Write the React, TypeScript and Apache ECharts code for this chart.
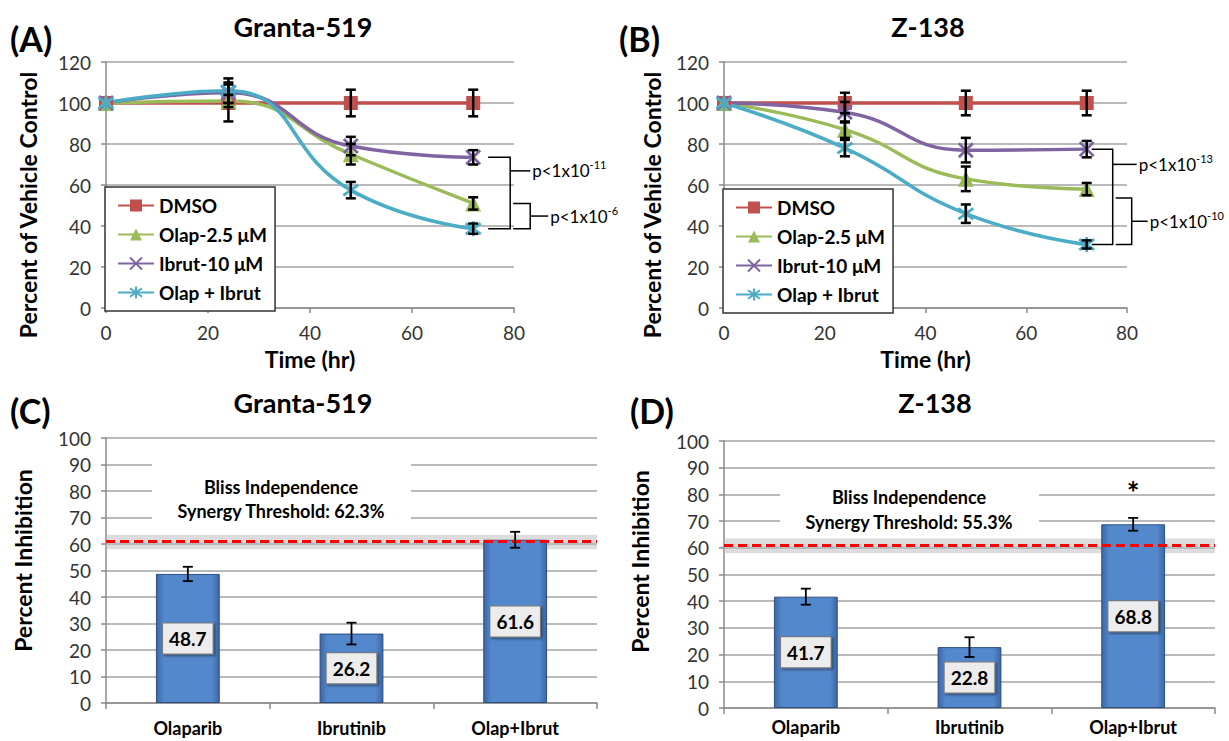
import React, { useEffect, useRef } from "react";
import * as echarts from "echarts";

// ---------- data ----------
const timePoints = [0, 24, 48, 72];
const seriesNames = ["DMSO", "Olap-2.5 μM", "Ibrut-10 μM", "Olap + Ibrut"];

// (A) Granta-519, percent of vehicle control
const grantaDMSO = [100, 100, 100, 100];
const grantaOlap = [100, 101, 75, 51];
const grantaIbrut = [100, 105, 79, 73.5];
const grantaCombo = [100, 106, 57.5, 38.7];
const grantaDMSOErr = [0, 9, 6.5, 6.5];
const grantaOlapErr = [0, 3, 5, 3];
const grantaIbrutErr = [0, 5, 4.5, 3.5];
const grantaComboErr = [0, 6, 4, 2.5];

// (B) Z-138, percent of vehicle control
const z138DMSO = [100, 100, 100, 100];
const z138Olap = [100, 87, 63, 58];
const z138Ibrut = [100, 95.5, 77, 77.5];
const z138Combo = [100, 78, 46, 31];
const z138DMSOErr = [0, 5, 6, 6];
const z138OlapErr = [0, 4, 6, 3];
const z138IbrutErr = [0, 5, 6, 4];
const z138ComboErr = [0, 4, 4.5, 2];

// p-value annotations
const grantaPBase = ["p<1x10", "p<1x10"];
const grantaPExp = ["-11", "-6"];
const z138PBase = ["p<1x10", "p<1x10"];
const z138PExp = ["-13", "-10"];

// (C)/(D) percent inhibition
const barCategories = ["Olaparib", "Ibrutinib", "Olap+Ibrut"];
const grantaInhibition = [48.7, 26.2, 61.6];
const grantaInhibitionErr = [2.7, 4.1, 3];
const z138Inhibition = [41.7, 22.8, 68.8];
const z138InhibitionErr = [3, 3.7, 2.4];
const thresholdValue = 61;
const thresholdBand = [58, 63.5];
const grantaBlissText = ["Bliss Independence", "Synergy Threshold: 62.3%"];
const z138BlissText = ["Bliss Independence", "Synergy Threshold: 55.3%"];

const panelTitles = ["Granta-519", "Z-138", "Granta-519", "Z-138"];
const panelLetters = ["(A)", "(B)", "(C)", "(D)"];

// ---------- styles ----------
const FONT = 'Lato, "Open Sans", "DejaVu Sans", sans-serif';
const lineColors = ["#c0504d", "#9bbb59", "#8064a2", "#4bacc6"];
const symbols = [
  "rect",
  "triangle",
  "path://M1,1L13,13M13,1L1,13",
  "path://M1,2L13,12M13,2L1,12M7,0L7,14",
];
const symbolSizes = [14, 16, 14, 15];
const symbolBorder = [0, 0, 2.8, 2.8];

const grids = [
  { left: 106, top: 62, width: 408, height: 246 },
  { left: 724, top: 62, width: 403, height: 246 },
  { left: 106, top: 438, width: 491, height: 265 },
  { left: 724, top: 441, width: 491, height: 267 },
];

const gridLineStyle = { color: "#a3a3a3", width: 1.5 };
const axisLineStyle = { color: "#8a8a8a", width: 1.5 };
const tickLabel = { fontSize: 19, color: "#333", fontFamily: FONT };

function lineXAxis(idx: number) {
  return {
    type: "value",
    gridIndex: idx,
    min: 0,
    max: 80,
    interval: 20,
    name: "Time (hr)",
    nameLocation: "middle",
    nameGap: 39,
    nameTextStyle: { fontSize: 23, fontWeight: "bold", color: "#000", fontFamily: FONT },
    axisLine: { show: true, lineStyle: axisLineStyle },
    axisTick: { show: true, length: 5, lineStyle: axisLineStyle },
    axisLabel: { ...tickLabel, margin: 15 },
    splitLine: { show: false },
  };
}

function lineYAxis(idx: number, gap: number) {
  return {
    type: "value",
    gridIndex: idx,
    min: 0,
    max: 120,
    interval: 20,
    name: "Percent of Vehicle Control",
    nameLocation: "middle",
    nameGap: gap,
    nameTextStyle: {
      fontSize: 23,
      fontWeight: "bold",
      color: "#000",
      fontFamily: FONT,
      padding: [0, 40, 0, 0],
    },
    axisLine: { show: true, lineStyle: axisLineStyle },
    axisTick: { show: true, length: 5, lineStyle: axisLineStyle },
    axisLabel: { ...tickLabel, margin: 15 },
    splitLine: { show: true, lineStyle: gridLineStyle },
  };
}

function barXAxis(idx: number, margin: number) {
  return {
    type: "category",
    gridIndex: idx,
    data: barCategories,
    axisLine: { show: true, lineStyle: axisLineStyle },
    axisTick: { show: true, length: 6, lineStyle: axisLineStyle },
    axisLabel: { fontSize: 18, fontWeight: "bold", color: "#000", fontFamily: FONT, margin },
  };
}

function barYAxis(idx: number, gap: number, pad: number) {
  return {
    type: "value",
    gridIndex: idx,
    min: 0,
    max: 100,
    interval: 10,
    name: "Percent Inhibition",
    nameLocation: "middle",
    nameGap: gap,
    nameTextStyle: {
      fontSize: 23,
      fontWeight: "bold",
      color: "#000",
      fontFamily: FONT,
      padding: [0, 0, 0, pad],
    },
    axisLine: { show: true, lineStyle: axisLineStyle },
    axisTick: { show: true, length: 5, lineStyle: axisLineStyle },
    axisLabel: { ...tickLabel, margin: 15 },
    splitLine: { show: true, lineStyle: gridLineStyle },
  };
}

function lineSeries(idx: number, values: number[][]) {
  return values.map((vals, k) => ({
    type: "line",
    name: seriesNames[k],
    xAxisIndex: idx,
    yAxisIndex: idx,
    data: timePoints.map((t, i) => [t, vals[i]]),
    smooth: true,
    symbol: symbols[k],
    symbolSize: symbolSizes[k],
    lineStyle: { color: lineColors[k], width: 3.5 },
    itemStyle: { color: lineColors[k], borderColor: lineColors[k], borderWidth: symbolBorder[k] },
    z: 3,
  }));
}

function errRender(cap: number, width: number) {
  return (params: any, api: any) => {
    const x = api.value(0);
    const top = api.coord([x, api.value(2)]);
    const bot = api.coord([x, api.value(1)]);
    const st = { stroke: "#000", lineWidth: width };
    return {
      type: "group",
      children: [
        { type: "line", shape: { x1: top[0], y1: top[1], x2: bot[0], y2: bot[1] }, style: st },
        { type: "line", shape: { x1: top[0] - cap, y1: top[1], x2: top[0] + cap, y2: top[1] }, style: st },
        { type: "line", shape: { x1: bot[0] - cap, y1: bot[1], x2: bot[0] + cap, y2: bot[1] }, style: st },
      ],
    };
  };
}

function lineErrSeries(idx: number, values: number[][], errs: number[][]) {
  const data: number[][] = [];
  values.forEach((vals, k) =>
    vals.forEach((v, i) => {
      if (errs[k][i] > 0) data.push([timePoints[i], v - errs[k][i], v + errs[k][i]]);
    })
  );
  return {
    type: "custom",
    name: "err" + idx,
    xAxisIndex: idx,
    yAxisIndex: idx,
    data,
    encode: { x: 0, y: [1, 2] },
    renderItem: errRender(5, 2.5),
    z: 4,
    silent: true,
  };
}

const barGradient = new echarts.graphic.LinearGradient(0, 0, 1, 0, [
  { offset: 0, color: "#3c68a6" },
  { offset: 0.12, color: "#5488cc" },
  { offset: 0.88, color: "#5488cc" },
  { offset: 1, color: "#3c68a6" },
]);

function barSeries(idx: number, values: number[]) {
  return {
    type: "bar",
    name: "bar" + idx,
    xAxisIndex: idx,
    yAxisIndex: idx,
    data: values,
    barWidth: "39%",
    itemStyle: { color: barGradient, borderColor: "#2d4f82", borderWidth: 1 },
    label: {
      show: true,
      position: "inside",
      formatter: (p: any) => Number(p.value).toFixed(1),
      color: "#000",
      fontWeight: "bold",
      fontSize: 19,
      fontFamily: FONT,
      backgroundColor: "#ececec",
      borderColor: "#7a7a7a",
      borderWidth: 1,
      padding: [6, 6, 5, 6],
      shadowColor: "rgba(0,0,0,0.45)",
      shadowBlur: 2,
      shadowOffsetX: 1.5,
      shadowOffsetY: 1.5,
    },
    z: 2,
  };
}

function barErrSeries(idx: number, values: number[], errs: number[]) {
  return {
    type: "custom",
    name: "barerr" + idx,
    xAxisIndex: idx,
    yAxisIndex: idx,
    data: values.map((v, i) => [i, v - errs[i], v + errs[i]]),
    encode: { x: 0, y: [1, 2] },
    renderItem: errRender(5, 1.8),
    markArea: {
      silent: true,
      itemStyle: { color: "rgba(185,185,185,0.5)" },
      data: [[{ yAxis: thresholdBand[0] }, { yAxis: thresholdBand[1] }]],
    },
    markLine: {
      silent: true,
      symbol: "none",
      label: { show: false },
      lineStyle: { color: "#ff0000", type: [9, 5], width: 3 },
      data: [{ yAxis: thresholdValue }],
    },
    z: 5,
    silent: true,
  };
}

function legend(left: number, top: number) {
  return {
    data: seriesNames,
    orient: "vertical",
    left,
    top,
    selectedMode: false,
    backgroundColor: "#fff",
    borderColor: "#333",
    borderWidth: 1.5,
    borderRadius: 0,
    padding: [9, 8, 9, 12],
    itemGap: 10,
    itemWidth: 36,
    itemHeight: 15,
    textStyle: { fontSize: 19, fontWeight: "bold", color: "#000", fontFamily: FONT, width: 118 },
    z: 6,
  };
}

const grantaVals = [grantaDMSO, grantaOlap, grantaIbrut, grantaCombo];
const grantaErrs = [grantaDMSOErr, grantaOlapErr, grantaIbrutErr, grantaComboErr];
const z138Vals = [z138DMSO, z138Olap, z138Ibrut, z138Combo];
const z138Errs = [z138DMSOErr, z138OlapErr, z138IbrutErr, z138ComboErr];

function buildOption() {
  return {
    animation: false,
    backgroundColor: "#fff",
    textStyle: { fontFamily: FONT },
    grid: grids.map((g) => ({ ...g, containLabel: false })),
    xAxis: [lineXAxis(0), lineXAxis(1), barXAxis(2, 16), barXAxis(3, 10)],
    yAxis: [lineYAxis(0, 67), lineYAxis(1, 61), barYAxis(2, 72, 20), barYAxis(3, 73, 26)],
    legend: [legend(105, 187), legend(723, 189)],
    series: [
      ...lineSeries(0, grantaVals),
      lineErrSeries(0, grantaVals, grantaErrs),
      ...lineSeries(1, z138Vals),
      lineErrSeries(1, z138Vals, z138Errs),
      barSeries(2, grantaInhibition),
      barErrSeries(2, grantaInhibition, grantaInhibitionErr),
      barSeries(3, z138Inhibition),
      barErrSeries(3, z138Inhibition, z138InhibitionErr),
    ],
  };
}

// bracket layout (pixel offsets to the right of the last time point)
const bracketLayout = [
  // panel A
  [
    { from: 2, to: 3, x0: 15, xv: 37, xm: 57, frac: 0.19, topOff: 0 },
    { from: 1, to: 3, x0: 40, xv: 57, xm: 75, frac: 0.5, topOff: 0 },
  ],
  // panel B
  [
    { from: 2, to: 3, x0: 5, xv: 26, xm: 50, frac: 0.16, topOff: 0 },
    { from: 1, to: 3, x0: 29, xv: 45, xm: 61, frac: 0.5, topOff: 9 },
  ],
];

function textEl(text: string, x: number, y: number, size: number, align = "center", weight = "bold") {
  return {
    type: "text",
    x,
    y,
    z: 10,
    style: {
      text,
      fontSize: size,
      fontWeight: weight,
      fontFamily: FONT,
      fill: "#000",
      align,
      verticalAlign: "middle",
    },
  };
}

function buildGraphic(chart: any) {
  const els: any[] = [];
  const letterPos = [
    [10, 38],
    [619, 38],
    [10, 410],
    [630, 410],
  ];
  const titlePos = [
    [303, 26],
    [928, 26],
    [303, 402],
    [935, 402],
  ];
  panelLetters.forEach((l, i) => els.push(textEl(l, letterPos[i][0], letterPos[i][1], 34, "left")));
  panelTitles.forEach((t, i) => els.push(textEl(t, titlePos[i][0], titlePos[i][1], 27)));

  // brackets
  const pBases = [grantaPBase, z138PBase];
  const pExps = [grantaPExp, z138PExp];
  const vals = [grantaVals, z138Vals];
  [0, 1].forEach((g) => {
    const last = timePoints.length - 1;
    bracketLayout[g].forEach((b, j) => {
      const pTop = chart.convertToPixel({ gridIndex: g }, [timePoints[last], vals[g][b.from][last]]);
      const pBot = chart.convertToPixel({ gridIndex: g }, [timePoints[last], vals[g][b.to][last]]);
      const bx = pTop[0];
      const yt = pTop[1] + b.topOff;
      const yb = pBot[1];
      const ym = yt + (yb - yt) * b.frac;
      els.push({
        type: "polyline",
        z: 10,
        shape: {
          points: [
            [bx + b.x0, yt],
            [bx + b.xv, yt],
            [bx + b.xv, yb],
            [bx + b.x0, yb],
          ],
        },
        style: { stroke: "#000", lineWidth: 1.5, fill: null },
      });
      els.push({
        type: "line",
        z: 10,
        shape: { x1: bx + b.xv, y1: ym, x2: bx + b.xm, y2: ym },
        style: { stroke: "#000", lineWidth: 1.5 },
      });
      els.push({
        type: "text",
        x: bx + b.xm + 2,
        y: ym,
        z: 10,
        style: {
          text: `{b|${pBases[g][j]}}{s|${pExps[g][j]}}`,
          rich: {
            b: { fontSize: 17, fontFamily: FONT, fill: "#000", lineHeight: 23 },
            s: { fontSize: 11, fontFamily: FONT, fill: "#000", lineHeight: 12, verticalAlign: "top" },
          },
          align: "left",
          verticalAlign: "middle",
        },
      });
    });
  });

  // Bliss independence boxes
  els.push({ type: "rect", z: 8, shape: { x: 152, y: 454, width: 259, height: 73 }, style: { fill: "#fff" } });
  els.push(textEl(grantaBlissText[0], 281, 487, 18));
  els.push(textEl(grantaBlissText[1], 281, 511, 18));
  els.push({ type: "rect", z: 8, shape: { x: 780, y: 480, width: 259, height: 50 }, style: { fill: "#fff" } });
  els.push(textEl(z138BlissText[0], 909, 497, 18));
  els.push(textEl(z138BlissText[1], 909, 522, 18));

  // significance star above combo bar in (D)
  const star = chart.convertToPixel({ gridIndex: 3 }, [barCategories.length - 1, 80]);
  els.push(textEl("*", star[0], star[1] - 2, 30));
  return els;
}

export default function App() {
  const ref = useRef<HTMLDivElement>(null);
  useEffect(() => {
    document.body.style.margin = "0";
    const chart = echarts.init(ref.current as HTMLDivElement, null, { renderer: "svg" });
    chart.setOption(buildOption() as any);
    chart.setOption({ graphic: buildGraphic(chart) } as any);
    return () => chart.dispose();
  }, []);
  return <div ref={ref} style={{ width: 1229, height: 741 }} />;
}
